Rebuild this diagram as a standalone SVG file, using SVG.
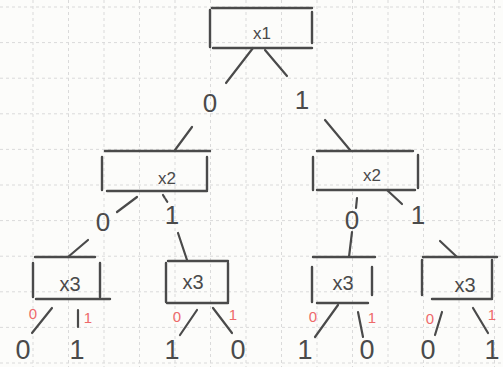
<svg xmlns="http://www.w3.org/2000/svg" width="503" height="367" viewBox="0 0 503 367">
<style>
.grid{stroke:#dadada;stroke-width:1;stroke-dasharray:3 3;fill:none}
.ln{stroke:#4a4a4a;stroke-width:2.2;stroke-linecap:round;fill:none}
.box{stroke:#4a4a4a;stroke-width:2.4;stroke-linecap:round;fill:none}
.t{font-family:"Liberation Sans",Arial,sans-serif;fill:#4a4a4a;text-anchor:middle}
.nl{font-size:17px}
.n3{font-size:20px}
.el{font-size:26px}
.lf{font-size:27px}
.r{font-size:15px;fill:#ee6a6a}
</style>
<rect width="503" height="367" fill="#fcfcfa"/>
<path class="grid" d="M33,0V367M68.5,0V367M104,0V367M139.5,0V367M175,0V367M210.5,0V367M246,0V367M281.5,0V367M317,0V367M352.5,0V367M388,0V367M423.5,0V367M459,0V367M494.5,0V367M0,7H503M0,42.6H503M0,78.2H503M0,113.8H503M0,149.4H503M0,185H503M0,220.6H503M0,256.2H503M0,291.8H503M0,327.4H503M0,363H503"/>
<g id="connectors">
<path class="ln" d="M253,48L226,83M265,50L287,76M192,127L175,150M325,120L350,150M137,197L117,212M88,240L68,257M178,233L187,260M357,198L356,208M352,232L349,257M387,190L402,204M440,241L457,257M52,308L32,333M78,310L78,327M197,310L180,335M213,308L232,333M338,305L315,337M358,312L363,337M442,312L435,335M473,308L488,333"/>
<path class="ln" d="M163,195L168,203" stroke-dasharray="3 2"/>
<text class="t el" x="210" y="112">0</text>
<text class="t el" x="302" y="109">1</text>
<text class="t el" x="103" y="231">0</text>
<text class="t el" x="172" y="224">1</text>
<text class="t el" x="352" y="229">0</text>
<text class="t el" x="418" y="224">1</text>
<text class="t r" x="33" y="319">0</text>
<text class="t r" x="88" y="323">1</text>
<text class="t r" x="177" y="322">0</text>
<text class="t r" x="233" y="320">1</text>
<text class="t r" x="313" y="322">0</text>
<text class="t r" x="372" y="323">1</text>
<text class="t r" x="430" y="324">0</text>
<text class="t r" x="492" y="320">1</text>
</g>
<g id="n_x1"><path class="box" d="M212,8L312,8M210,10L210,47M312,12L312,43M213,48L312,48"/><text class="t nl" x="262" y="39">x1</text></g>
<g id="n_x2a"><path class="box" d="M105,151L210,151M102,157L102,190M207,157L207,190M107,191L207,191"/><text class="t nl" x="167" y="184">x2</text></g>
<g id="n_x2b"><path class="box" d="M317,151L413,151M313,157L313,190M418,155L418,188M317,190L415,190"/><text class="t nl" x="372" y="181">x2</text></g>
<g id="n_x3a"><path class="box" d="M35,257L95,257M33,263L33,297M100,263L100,297M36,299L110,299"/><text class="t n3" x="70" y="291">x3</text></g>
<g id="n_x3b"><path class="box" d="M168,261L228,261M166,263L166,302M228,263L228,302M167,303L228,303"/><text class="t n3" x="193" y="289">x3</text></g>
<g id="n_x3c"><path class="box" d="M313,257L375,257M312,267L312,302M372,267L372,295M317,303L368,303"/><text class="t n3" x="343" y="290">x3</text></g>
<g id="n_x3d"><path class="box" d="M423,257L497,257M422,260L422,295M492,260L492,298M432,299L492,299"/><text class="t n3" x="465" y="292">x3</text></g>
<g id="leaf1"><text class="t lf" x="23" y="359">0</text></g>
<g id="leaf2"><text class="t lf" x="77" y="359">1</text></g>
<g id="leaf3"><text class="t lf" x="172" y="359">1</text></g>
<g id="leaf4"><text class="t lf" x="238" y="359">0</text></g>
<g id="leaf5"><text class="t lf" x="305" y="359">1</text></g>
<g id="leaf6"><text class="t lf" x="367" y="359">0</text></g>
<g id="leaf7"><text class="t lf" x="428" y="359">0</text></g>
<g id="leaf8"><text class="t lf" x="492" y="359">1</text></g>
</svg>
